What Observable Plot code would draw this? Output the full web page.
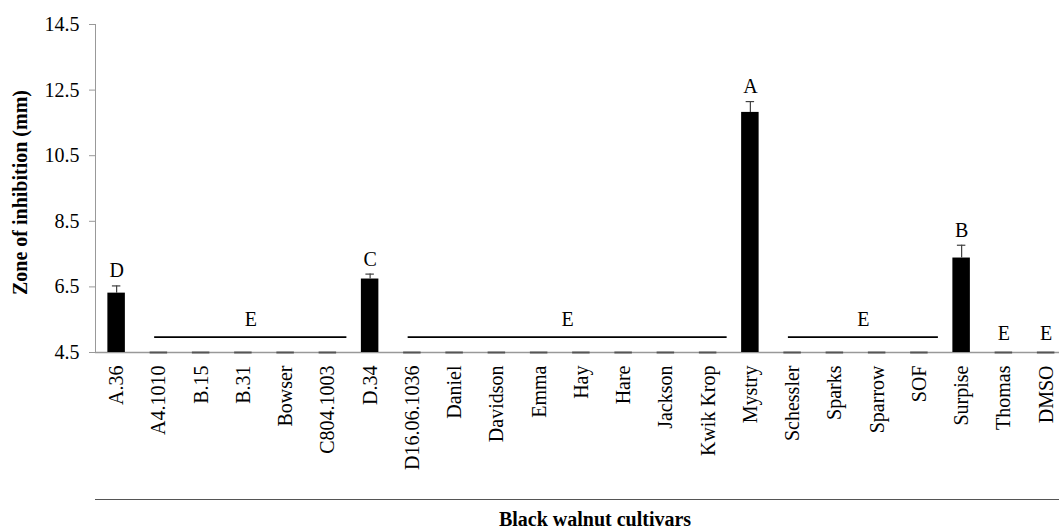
<!DOCTYPE html>
<html>
<head>
<meta charset="utf-8">
<script src="https://cdn.jsdelivr.net/npm/d3@7"></script>
<script src="https://cdn.jsdelivr.net/npm/@observablehq/plot@0.6"></script>
<style>
  html, body { margin: 0; padding: 0; background: #fff; overflow: hidden; }
  #chart svg { display: block; font-family: "Liberation Serif", "Times New Roman", serif !important; }
  #chart svg text { font-family: "Liberation Serif", "Times New Roman", serif !important; }
  .xtitle {
    margin-left: 95px;
    margin-top: 9px;
    border-top: 1.5px solid #555;
    padding-top: 9px;
    padding-left: 36px;
    text-align: center;
    font: bold 20px "Liberation Serif", "Times New Roman", serif;
    line-height: 20px;
    color: #000;
  }
</style>
</head>
<body>
<div id="chart"></div>
<div class="xtitle">Black walnut cultivars</div>
<script>
// ---- data ----
const categories = ["A.36", "A4.1010", "B.15", "B.31", "Bowser", "C804.1003", "D.34",
  "D16.06.1036", "Daniel", "Davidson", "Emma", "Hay", "Hare", "Jackson", "Kwik Krop",
  "Mystry", "Schessler", "Sparks", "Sparrow", "SOF", "Surpise", "Thomas", "DMSO"];
const means = [6.31, 0, 0, 0, 0, 0, 6.74, 0, 0, 0, 0, 0, 0, 0, 0, 11.82, 0, 0, 0, 0, 7.38, 0, 0];
const errors = [0.22, 0, 0, 0, 0, 0, 0.15, 0, 0, 0, 0, 0, 0, 0, 0, 0.33, 0, 0, 0, 0, 0.39, 0, 0];
const letters = ["D", "", "", "", "", "", "C", "", "", "", "", "", "", "", "", "A", "", "", "", "", "B", "E", "E"];
// grouped letters drawn over a line spanning several cultivars
const groupStart = [1, 7, 16];
const groupEnd = [5, 14, 19];
const groupLetters = ["E", "E", "E"];
const groupLevel = 4.97;
const yTicks = [4.5, 6.5, 8.5, 10.5, 12.5, 14.5];
const yTickLabels = ["4.5", "6.5", "8.5", "10.5", "12.5", "14.5"];
const yMin = 4.5, yMax = 14.5;

const rows = categories.map((c, i) => ({i, name: c, mean: means[i], err: errors[i], letter: letters[i]}));
const bars = rows.filter(d => d.mean > yMin);
const zeros = rows.filter(d => d.mean <= yMin);
const groups = groupStart.map((s, k) => ({s, e: groupEnd[k], letter: groupLetters[k]}));

const half = 0.207;   // half bar width in band units
const capHalf = 0.1;
const lineLeft = 0.1, lineRight = 0.45;
const fs = 20;

const chart = Plot.plot({
  width: 1059,
  height: 490,
  marginLeft: 95,
  marginRight: 0,
  marginTop: 24,
  marginBottom: 138,
  x: {type: "linear", domain: [-0.5, categories.length - 0.5], range: [95, 95 + 42.25 * categories.length]},
  y: {domain: [yMin, yMax]},
  style: {fontSize: "20px", color: "#000", background: "#fff", overflow: "visible"},
  marks: [
    Plot.axisY({ticks: yTicks, tickFormat: v => yTickLabels[yTicks.indexOf(v)], tickSize: 6, tickPadding: 10,
      label: null, stroke: "#999", fill: "#000", fontSize: fs}),
    Plot.axisX({ticks: d3.range(categories.length), tickFormat: i => categories[i], tickRotate: -90,
      tickSize: 0, tickPadding: 13, label: null, fill: "#000", fontSize: fs}),
    Plot.ruleX([-0.5], {stroke: "#999", strokeWidth: 1}),
    Plot.ruleY([yMin], {stroke: "#999", strokeWidth: 1.5}),
    // bars
    Plot.rectY(bars, {x1: d => d.i - half, x2: d => d.i + half, y1: yMin, y2: "mean", fill: "#000"}),
    // zero-value dashes
    Plot.ruleY(zeros, {y: () => yMin, x1: d => d.i - half, x2: d => d.i + half, stroke: "#555", strokeWidth: 2}),
    // error bars
    Plot.ruleX(bars, {x: "i", y1: "mean", y2: d => d.mean + d.err, stroke: "#404040", strokeWidth: 1.2}),
    Plot.ruleY(bars, {y: d => d.mean + d.err, x1: d => d.i - capHalf, x2: d => d.i + capHalf, stroke: "#404040", strokeWidth: 1.2}),
    // letters over bars
    Plot.text(bars, {x: "i", y: d => d.mean + d.err, text: "letter", lineAnchor: "bottom", dy: -8.5, fontSize: fs, fill: "#000"}),
    Plot.text(zeros.filter(d => d.letter), {x: "i", y: () => yMin, text: "letter", lineAnchor: "bottom", dy: -13, fontSize: fs, fill: "#000"}),
    // grouped letters
    Plot.ruleY(groups, {y: () => groupLevel, x1: d => d.s - lineLeft, x2: d => d.e + lineRight, stroke: "#000", strokeWidth: 1.8}),
    Plot.text(groups, {x: d => (d.s - lineLeft + d.e + lineRight) / 2, y: () => groupLevel, text: "letter",
      lineAnchor: "bottom", dy: -11, fontSize: fs, fill: "#000"}),
    // y axis title
    Plot.text(["Zone of inhibition (mm)"], {frameAnchor: "left", text: d => d, rotate: -90, dx: -75, dy: 4,
      textAnchor: "middle", lineAnchor: "middle", fontWeight: "bold", fontSize: fs, fill: "#000"})
  ]
});
document.getElementById("chart").append(chart);
</script>
</body>
</html>
